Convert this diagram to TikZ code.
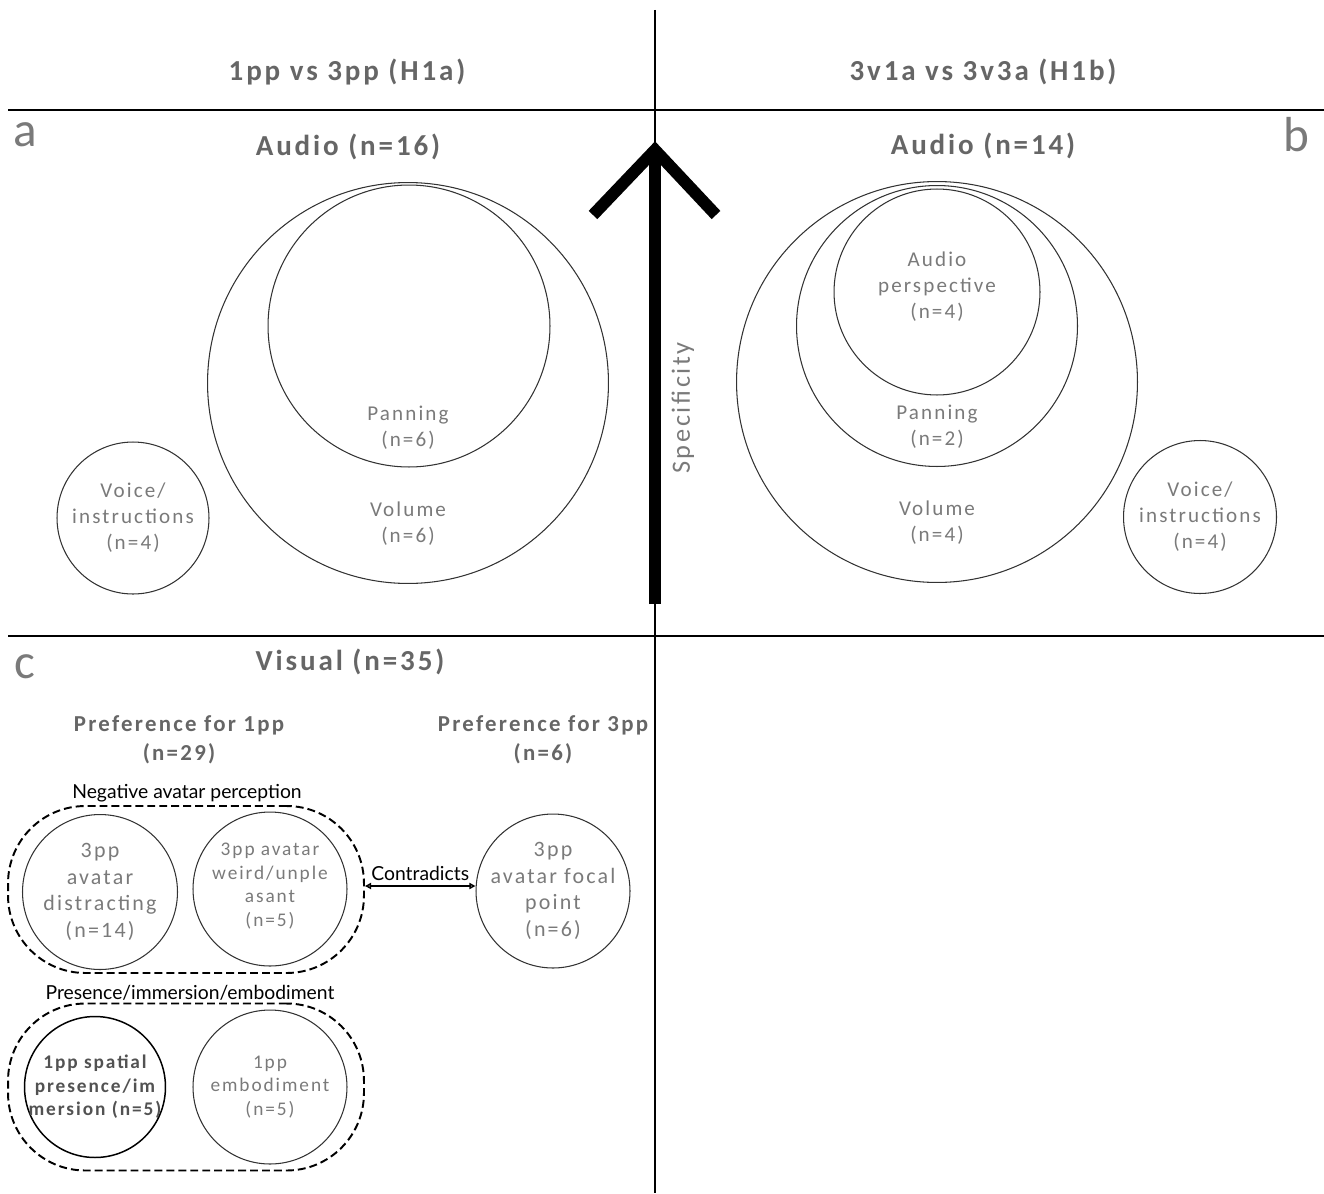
\documentclass[tikz,border=0pt]{standalone}
\usepackage{fontspec}
\setmainfont{Carlito}[LetterSpace=10]
\newfontfamily\thinfont{Lato}
\usepackage{tikz}
\usetikzlibrary{arrows.meta,positioning,calc}
\definecolor{txtgray}{HTML}{7A7A7A}
\definecolor{headgray}{HTML}{666666}

\begin{document}
\begin{tikzpicture}[x=0.02cm,y=-0.02cm,
  ring/.style={draw=black!80,line width=0.6pt,circle,inner sep=0pt},
  lbl/.style={font=\fontsize{12}{14.8}\selectfont,text=txtgray,align=center},
  small/.style={font=\fontsize{11}{13.4}\selectfont,text=txtgray,align=center},
  head/.style={font=\fontsize{16.5}{19}\selectfont\bfseries,text=headgray,align=center},
  panel/.style={font=\fontsize{28}{30}\selectfont,text=txtgray},
  group/.style={draw,dash pattern=on 4.5pt off 2.3pt,line width=1.1pt,rectangle,
    rounded corners=44pt,minimum width=7.12cm,minimum height=3.34cm},
  grouplbl/.style={font=\thinfont\fontsize{11}{13}\selectfont}
  ]
\useasboundingbox (0,0) rectangle (1324,1193);

% frame lines
\draw[line width=0.7pt] (655,10) -- (655,1193);
\draw[line width=1.1pt] (8,110) -- (1324,110);
\draw[line width=0.9pt] (8,636) -- (1324,636);

% column headings
\node[head] (h1a) at (347,72) {1pp vs 3pp (H1a)};
\node[head] (h1b) at (983,72) {3v1a vs 3v3a (H1b)};

% panel letters
\node[panel] (pa) at (25,135) {a};
\node[panel] (pb) at (1296,135) {b};
\node[panel] (pc) at (25,667) {c};

% specificity arrow
\coordinate (spectop) at (655,150);
\coordinate (specbot) at (655,604);
\draw[line width=6.8pt] (specbot) -- (spectop);
\draw[line width=6.8pt,miter limit=10] (593,215) -- (spectop) -- (716,215);
\node[lbl,font=\fontsize{15}{18}\selectfont,rotate=90] (spec) at (683,408) {Specificity};

% panel a: audio 1pp vs 3pp
\node[head] (audA) at (348,147) {Audio (n=16)};
\node[ring,minimum size=8.02cm] (volA) at (408,383) {};
\node[ring,minimum size=5.64cm] (panA) at (409,326) {};
\node[lbl] (panAt) at (408,428) {Panning\\(n=6)};
\node[lbl] (volAt) at (408,524) {Volume\\(n=6)};
\node[ring,minimum size=3.04cm] (voiA) at (133,518) {};
\node[lbl] (voiAt) at (voiA) {Voice/\\instructions\\(n=4)};

% panel b: audio 3v1a vs 3v3a
\node[head] (audB) at (983,146) {Audio (n=14)};
\node[ring,minimum size=8.02cm] (volB) at (937,382) {};
\node[ring,minimum size=5.62cm] (panB) at (937,326) {};
\node[ring,minimum size=4.12cm] (perB) at (937,292) {};
\node[lbl] (perBt) at (937,287) {Audio\\perspective\\(n=4)};
\node[lbl] (panBt) at (937,427) {Panning\\(n=2)};
\node[lbl] (volBt) at (937,523) {Volume\\(n=4)};
\node[ring,minimum size=3.06cm] (voiB) at (1200,517) {};
\node[lbl] (voiBt) at (voiB) {Voice/\\instructions\\(n=4)};

% panel c: visual
\node[head] (vis) at (350,662) {Visual (n=35)};
\node[head,font=\fontsize{13}{16.5}\selectfont\bfseries] (pref1) at (179,740) {Preference for 1pp\\(n=29)};
\node[head,font=\fontsize{13}{16.5}\selectfont\bfseries] (pref3) at (543,740) {Preference for 3pp\\(n=6)};

\node[group] (neg) at (186,889.5) {};
\node[grouplbl] (negt) at (187,793) {Negative avatar perception};
\node[ring,minimum size=3.1cm] (distr) at (100,892) {};
\node[lbl,font=\fontsize{12.5}{15.2}\selectfont] (distrt) at (distr) {3pp\\avatar\\distracting\\(n=14)};
\node[ring,minimum size=3.08cm] (weird) at (270,889) {};
\node[small] (weirdt) at (270,886) {3pp avatar\\weird/unple\\asant\\(n=5)};

\node[ring,minimum size=3.08cm] (focal) at (553,891) {};
\node[lbl,font=\fontsize{12.5}{15.2}\selectfont] (focalt) at (focal) {3pp\\avatar focal\\point\\(n=6)};

\draw[{Triangle[open,length=3.5pt,width=3.5pt]}-{Triangle[open,length=3.5pt,width=3.5pt]},line width=0.9pt]
  (neg.east |- 0,886) -- (focal.west |- 0,886)
  node[midway,above=-1pt,font=\thinfont\fontsize{11}{13}\selectfont] (contr) {Contradicts};

\node[group] (pres) at (186,1087) {};
\node[grouplbl] (prest) at (190,993) {Presence/immersion/embodiment};
\node[ring,draw=black,line width=0.85pt,minimum size=2.82cm] (spat) at (95,1087) {};
\node[small,text=black!68,font=\fontsize{11}{13.4}\selectfont\bfseries] (spatt) at (spat) {1pp spatial\\presence/im\\mersion (n=5)};
\node[ring,minimum size=3.08cm] (emb) at (270,1087) {};
\node[small] (embt) at (emb) {1pp\\embodiment\\(n=5)};

\end{tikzpicture}
\end{document}
